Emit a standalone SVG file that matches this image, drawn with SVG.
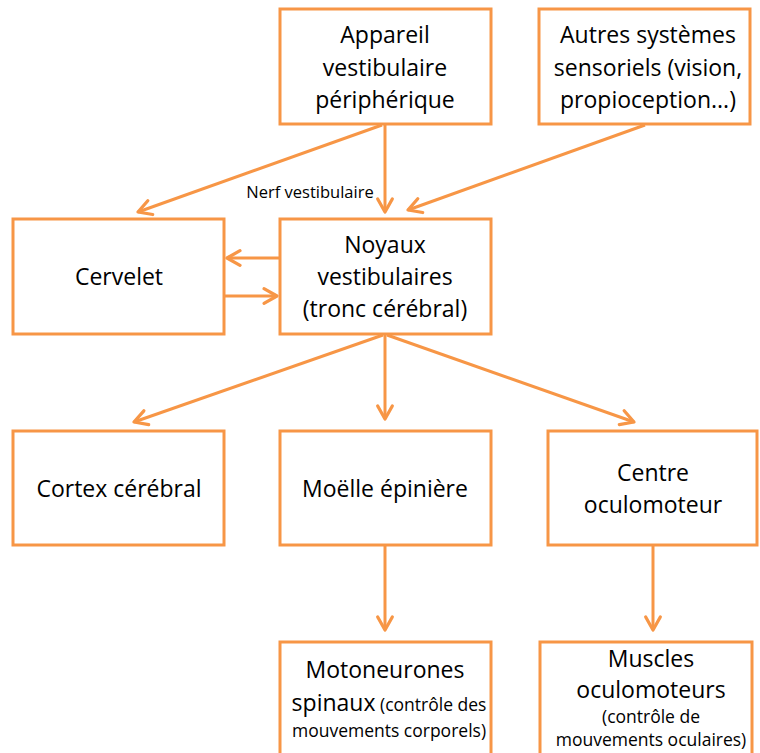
<svg xmlns="http://www.w3.org/2000/svg" width="760" height="753" viewBox="0 0 760 753">
<style>
.box{fill:#fff;stroke:#F79646;stroke-width:3}
.c{stroke:#F79646;stroke-width:3;fill:none;marker-end:url(#ah)}
text{font-family:"Open Sans","Liberation Sans",sans-serif;fill:#000;text-anchor:middle}
.t{font-size:23px}
.s{font-size:17.5px}
</style>
<defs>
<marker id="ah" viewBox="0 0 12 12" refX="10" refY="6" markerWidth="6.5" markerHeight="6.5" orient="auto" markerUnits="strokeWidth">
<polyline points="2,1.5 10,6 2,10.5" fill="none" stroke="#F79646" stroke-width="2" stroke-linecap="round" stroke-linejoin="round"/>
</marker>
</defs>
<rect width="760" height="753" fill="#fff"/>
<g id="connectors">
<line class="c" x1="385" y1="124" x2="385" y2="212"/>
<line class="c" x1="382" y1="125" x2="138" y2="212"/>
<line class="c" x1="645" y1="125" x2="408" y2="210"/>
<line class="c" x1="280" y1="258" x2="227" y2="258"/>
<line class="c" x1="224" y1="296" x2="277" y2="296"/>
<line class="c" x1="383" y1="335" x2="134" y2="422"/>
<line class="c" x1="385" y1="335" x2="385" y2="419"/>
<line class="c" x1="387" y1="335" x2="634" y2="422"/>
<line class="c" x1="385" y1="546" x2="385" y2="630"/>
<line class="c" x1="653" y1="546" x2="653" y2="630"/>
<text x="310" y="198" style="font-size:16.5px">Nerf vestibulaire</text>
</g>
<g id="appareil"><rect class="box" x="280" y="9" width="211" height="115"/>
<text class="t" x="385" y="43">Appareil</text><text class="t" x="385" y="76">vestibulaire</text><text class="t" x="385" y="108">périphérique</text></g>
<g id="autres"><rect class="box" x="539" y="9" width="211" height="115"/>
<text class="t" x="648" y="43">Autres systèmes</text><text class="t" x="648" y="76">sensoriels (vision,</text><text class="t" x="648" y="108">propioception...)</text></g>
<g id="cervelet"><rect class="box" x="13" y="219" width="211" height="115"/>
<text class="t" x="119" y="285">Cervelet</text></g>
<g id="noyaux"><rect class="box" x="280" y="219" width="211" height="115"/>
<text class="t" x="385" y="253">Noyaux</text><text class="t" x="385" y="285">vestibulaires</text><text class="t" x="385" y="317">(tronc cérébral)</text></g>
<g id="cortex"><rect class="box" x="13" y="431" width="211" height="114"/>
<text class="t" x="119" y="497">Cortex cérébral</text></g>
<g id="moelle"><rect class="box" x="280" y="431" width="211" height="114"/>
<text class="t" x="385" y="497">Moëlle épinière</text></g>
<g id="centre"><rect class="box" x="548" y="431" width="209" height="114"/>
<text class="t" x="653" y="481">Centre</text><text class="t" x="653" y="513">oculomoteur</text></g>
<g id="motoneurones"><rect class="box" x="280" y="642" width="211" height="120"/>
<text class="t" x="385" y="678">Motoneurones</text>
<text x="389" y="711"><tspan class="t">spinaux</tspan><tspan class="s"> (contrôle des</tspan></text>
<text class="s" x="389" y="737">mouvements corporels)</text></g>
<g id="muscles"><rect class="box" x="540" y="642" width="212" height="120"/>
<text class="t" x="651" y="667">Muscles</text><text class="t" x="651" y="698">oculomoteurs</text>
<text class="s" x="651" y="723">(contrôle de</text><text class="s" x="651" y="746">mouvements oculaires)</text></g>
</svg>
